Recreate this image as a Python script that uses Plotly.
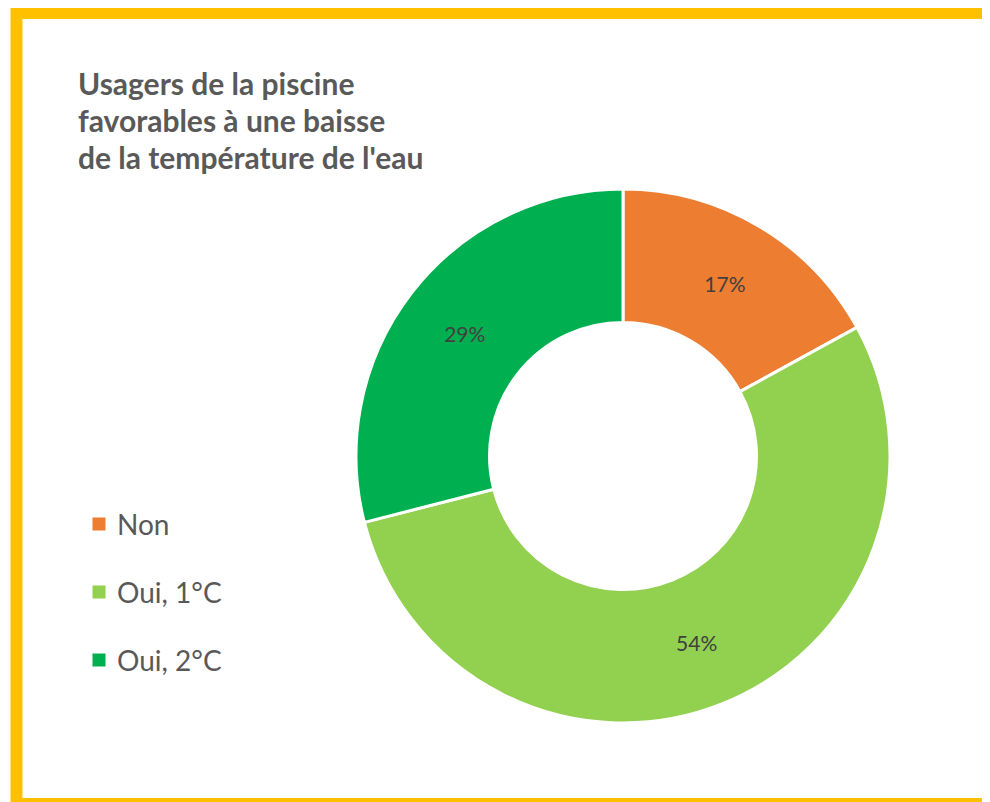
import plotly.graph_objects as go

# ---- data ----
categories = ["Non", "Oui, 1°C", "Oui, 2°C"]
values = [17, 54, 29]
colors = ["#ED7D31", "#92D050", "#00B050"]
title_lines = ["Usagers de la piscine",
               "favorables à une baisse",
               "de la température de l'eau"]

W, H = 990, 802
OFF = 8  # page body margin
FONT = "Lato"


def px(x):
    return (x - OFF) / W


def py(y):
    return 1 - (y - OFF) / H


fig = go.Figure()
fig.add_trace(go.Pie(
    labels=categories,
    values=values,
    marker=dict(colors=colors, line=dict(color="white", width=3)),
    hole=0.5,
    sort=False,
    direction="clockwise",
    rotation=0,
    textinfo="percent",
    texttemplate="%{percent:.0%}",
    textposition="inside",
    insidetextorientation="horizontal",
    textfont=dict(family=FONT, size=21, color="#404040"),
    domain=dict(x=[px(356), px(890)], y=[py(723), py(189)]),
    showlegend=False,
    hoverinfo="label+percent",
))

shapes = []
annotations = []

# border (gold frame, open on the right)
path = (f"M {px(1020)},{py(13)} L {px(16.5)},{py(13)} "
        f"L {px(16.5)},{py(804)} L {px(1020)},{py(804)}")
shapes.append(dict(type="path", xref="paper", yref="paper", path=path,
                   line=dict(color="#FFC000", width=12), layer="above"))

# title lines
for i, line in enumerate(title_lines):
    annotations.append(dict(
        x=px(76), y=py(83 + 37 * i), xref="paper", yref="paper",
        xanchor="left", yanchor="middle", showarrow=False,
        text=f"<b>{line}</b>",
        font=dict(family=FONT, size=30, color="#595959"),
    ))

# legend
for i, (cat, col) in enumerate(zip(categories, colors)):
    cy = 524 + 68 * i
    shapes.append(dict(type="rect", xref="paper", yref="paper",
                       x0=px(92.5), x1=px(105.5), y0=py(cy + 6.5), y1=py(cy - 6.5),
                       fillcolor=col, line=dict(width=0)))
    annotations.append(dict(
        x=px(115), y=py(cy), xref="paper", yref="paper",
        xanchor="left", yanchor="middle", showarrow=False,
        text=cat,
        font=dict(family=FONT, size=28, color="#595959"),
    ))

fig.update_layout(
    width=W, height=H,
    margin=dict(l=0, r=0, t=0, b=0),
    paper_bgcolor="white",
    plot_bgcolor="white",
    shapes=shapes,
    annotations=annotations,
)

fig.write_html("out.html")
